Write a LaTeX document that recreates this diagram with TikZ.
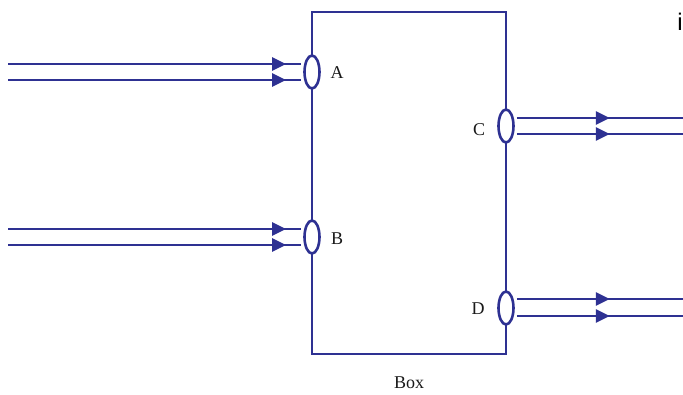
\documentclass[tikz,border=0pt]{standalone}
\usepackage{fontspec}
\newfontfamily\sansi{Liberation Sans}
\newfontfamily\serifi{Liberation Serif}
\usetikzlibrary{shapes.geometric,arrows.meta,decorations.markings}
\definecolor{navy}{RGB}{46,49,146}
\begin{document}
\begin{tikzpicture}[x=1pt,y=-1pt,
 wire/.style={draw=navy,line width=2.8pt},
 port/.style={ellipse,draw=navy,line width=2.6pt,fill=white,minimum width=15pt,minimum height=33pt,inner sep=0pt},
 lbl/.style={font=\serifi\fontsize{18}{20}\selectfont,text=black!90,inner sep=0pt},
 arrowmid/.style={postaction={decorate},decoration={markings,mark=at position #1 with {\arrow{Triangle[length=14pt,width=13pt]}}}}
]
\useasboundingbox (0,0) rectangle (683,394);
\node[draw=navy,line width=2.3pt,minimum width=194pt,minimum height=342pt,inner sep=0pt] (box) at (409,183) {};
\node[lbl] (boxlbl) at (409,383) {Box};
\node[port] (A) at (312,72) {};
\node[port] (B) at (312,237) {};
\node[port] (C) at (506,126) {};
\node[port] (D) at (506,308) {};
\node[lbl] (lA) at (337,73) {A};
\node[lbl] (lB) at (337,239) {B};
\node[lbl] (lC) at (479,130) {C};
\node[lbl] (lD) at (478,309) {D};
\node[font=\sansi\fontsize{24}{26}\selectfont,inner sep=0pt] (ii) at (680,22) {i};
\coordinate (a1) at (8,64);
\coordinate (a2) at (8,80);
\coordinate (b1) at (8,229);
\coordinate (b2) at (8,245);
\coordinate (c1) at (683,118);
\coordinate (c2) at (683,134);
\coordinate (d1) at (683,299);
\coordinate (d2) at (683,316);
\draw[wire,arrowmid=278pt] (a1) -- ([xshift=-2pt,yshift=8pt]A.west);
\draw[wire,arrowmid=278pt] (a2) -- ([xshift=-2pt,yshift=-8pt]A.west);
\draw[wire,arrowmid=278pt] (b1) -- ([xshift=-2pt,yshift=8pt]B.west);
\draw[wire,arrowmid=278pt] (b2) -- ([xshift=-2pt,yshift=-8pt]B.west);
\draw[wire,arrowmid=93pt] ([xshift=2pt,yshift=8pt]C.east) -- (c1);
\draw[wire,arrowmid=93pt] ([xshift=2pt,yshift=-8pt]C.east) -- (c2);
\draw[wire,arrowmid=93pt] ([xshift=2pt,yshift=9pt]D.east) -- (d1);
\draw[wire,arrowmid=93pt] ([xshift=2pt,yshift=-8pt]D.east) -- (d2);
\end{tikzpicture}
\end{document}
